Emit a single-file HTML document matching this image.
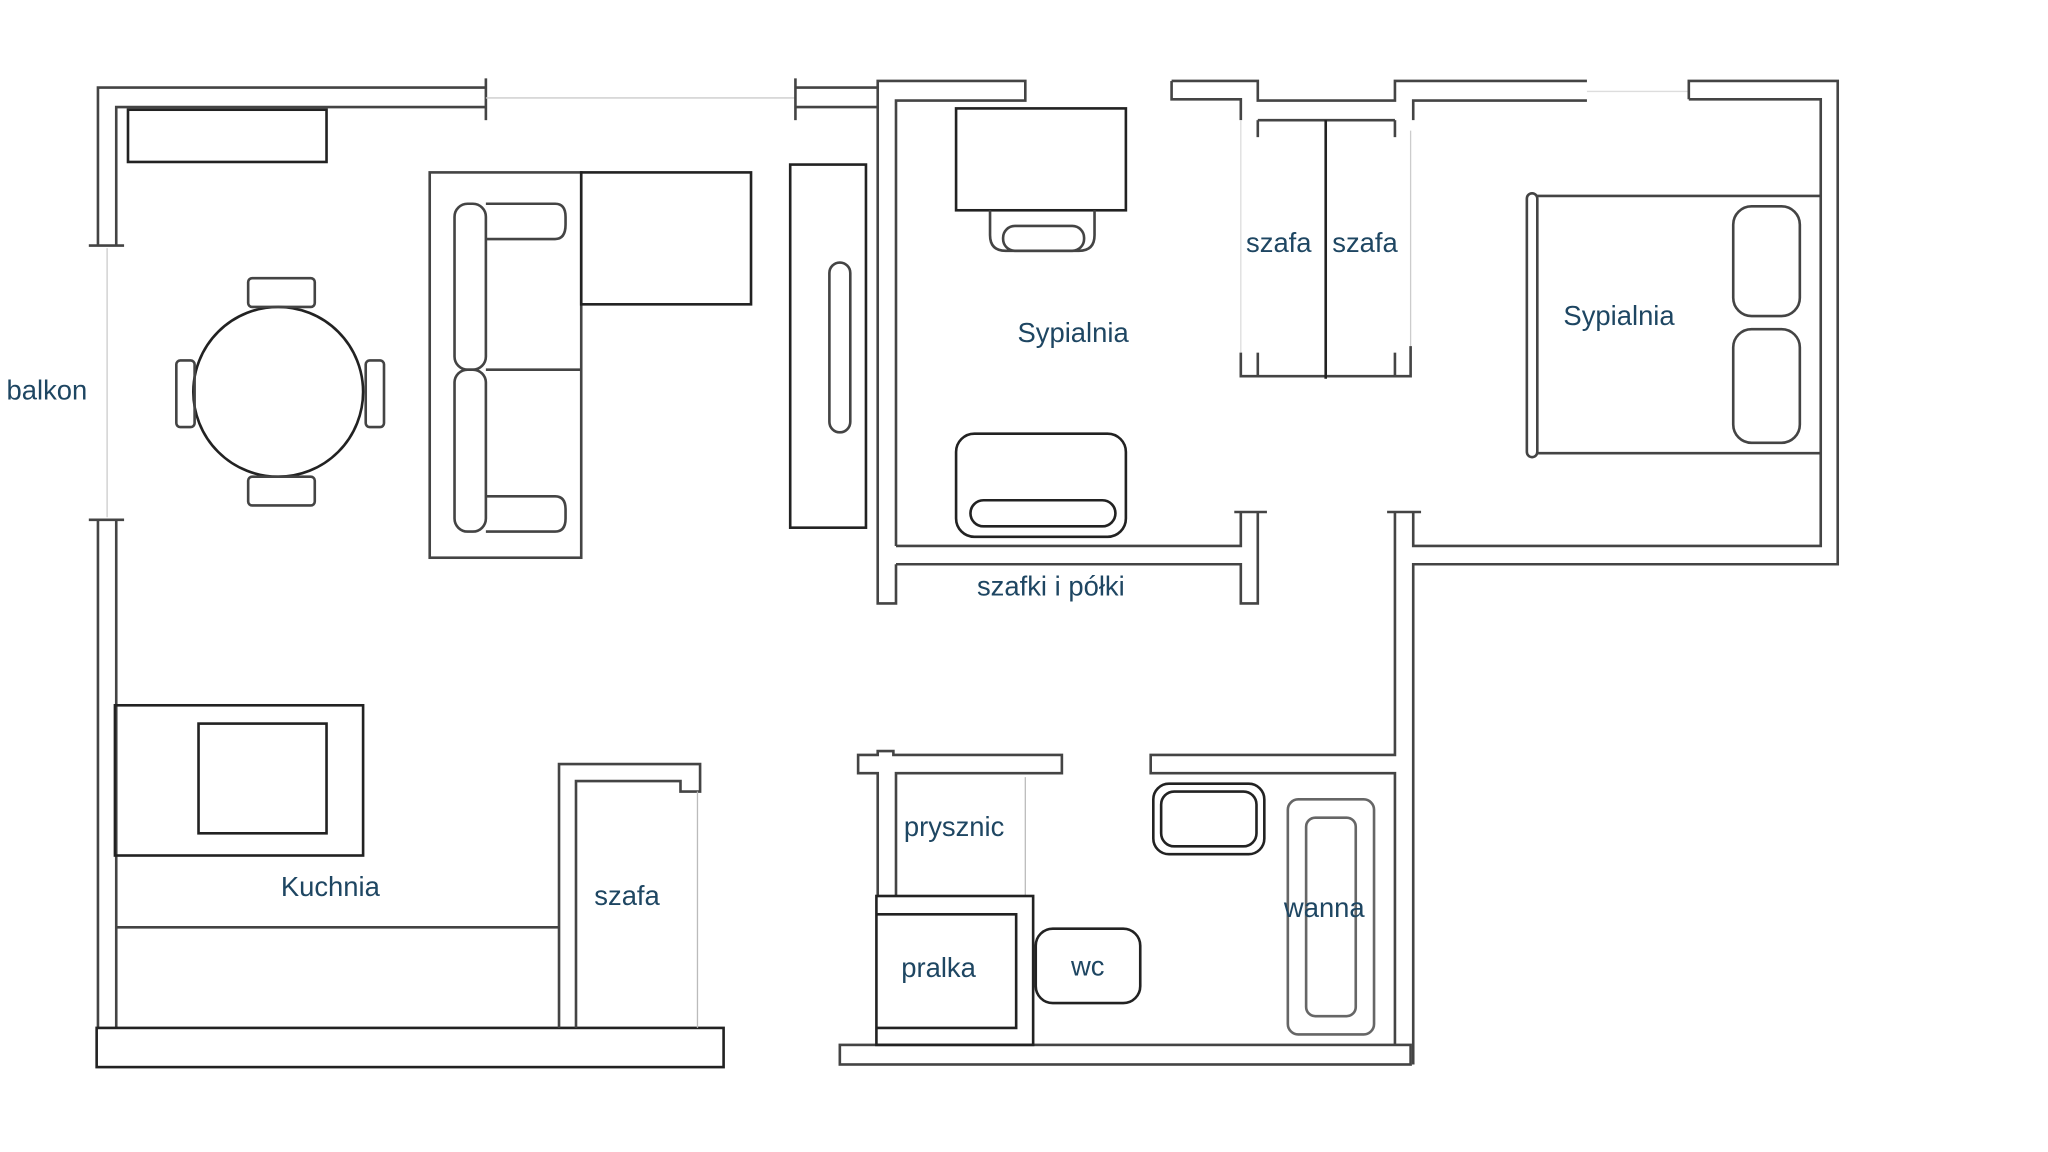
<!DOCTYPE html>
<html><head><meta charset="utf-8"><style>
html,body{margin:0;padding:0;background:#fff;}
svg{display:block;}
text{font-family:"Liberation Sans","DejaVu Sans",sans-serif;fill:#1e4662;font-size:21px;}
</style></head><body>
<svg width="2048" height="1152" viewBox="0 0 1568 882" xmlns="http://www.w3.org/2000/svg">
<rect width="1568" height="882" fill="#fff"/>
<g fill="none" stroke="#444" stroke-width="2">
<polyline points="75,188 75,67 372,67"/>
<polyline points="89,188 89,82 372,82"/>
<line x1="372" y1="60" x2="372" y2="92"/>
<line x1="68" y1="188" x2="95" y2="188"/>
<line x1="68" y1="398" x2="95" y2="398"/>
<line x1="75" y1="398" x2="75" y2="787"/>
<line x1="89" y1="398" x2="89" y2="787"/>
<line x1="82" y1="190" x2="82" y2="396" stroke="#ccc" stroke-width="1"/>
<line x1="372" y1="75" x2="609" y2="75" stroke="#ccc" stroke-width="1"/>
<rect x="98" y="84" width="152" height="40" stroke="#222"/>
<rect x="74" y="787" width="480" height="30" stroke="#222"/>
<rect x="88" y="540" width="190" height="115" stroke="#222"/>
<rect x="152" y="554" width="98" height="84" stroke="#222"/>
<line x1="89" y1="710" x2="428" y2="710"/>
<polyline points="428,787 428,585 536,585 536,606 521,606 521,598 441,598 441,787"/>
<line x1="534" y1="606" x2="534" y2="787" stroke="#bbb" stroke-width="1"/>
<circle cx="213" cy="300" r="65" stroke="#222"/>
<rect x="190" y="213" width="51" height="22" rx="3"/>
<rect x="190" y="365" width="51" height="22" rx="3"/>
<rect x="135" y="276" width="14" height="51" rx="3"/>
<rect x="280" y="276" width="14" height="51" rx="3"/>
<rect x="329" y="132" width="116" height="295"/>
<rect x="445" y="132" width="130" height="101" stroke="#222"/>
<rect x="348" y="156" width="24" height="127" rx="10"/>
<rect x="348" y="283" width="24" height="124" rx="10"/>
<path d="M372,156 H425 Q433,156 433,166 V172 Q433,183 425,183 H372"/>
<path d="M372,407 H425 Q433,407 433,397 V390 Q433,380 425,380 H372"/>
<line x1="372" y1="283" x2="445" y2="283"/>
<rect x="605" y="126" width="58" height="278" stroke="#222"/>
<rect x="635" y="201" width="16" height="130" rx="8"/>
<polyline points="609,67 672,67 672,462 686,462 686,432"/>
<polyline points="609,82 672,82"/>
<line x1="609" y1="60" x2="609" y2="92"/>
<polyline points="686,418 686,77 785,77 785,62 672,62 672,67"/>
<polyline points="686,418 950,418 950,392"/>
<line x1="945" y1="392" x2="970" y2="392"/>
<polyline points="963,392 963,462 950,462 950,432 686,432"/>
<rect x="732" y="83" width="130" height="78" stroke="#222"/>
<path d="M758,161 V180 Q758,192 770,192 H826 Q838,192 838,180 V161"/>
<rect x="768" y="173" width="62" height="19" rx="9"/>
<rect x="732" y="332" width="130" height="79" rx="14" stroke="#222"/>
<rect x="743" y="383" width="111" height="20" rx="10" stroke="#222"/>
<polyline points="897,62 963,62 963,77 1068,77 1068,62 1215,62"/>
<polyline points="897,62 897,76 950,76 950,92"/>
<polyline points="1215,77 1082,77 1082,92"/>
<line x1="1080" y1="100" x2="1080" y2="270" stroke="#ccc" stroke-width="1"/>
<line x1="950" y1="92" x2="950" y2="270" stroke="#ddd" stroke-width="1"/>
<polyline points="950,270 950,288 1080,288 1080,265"/>
<line x1="963" y1="92" x2="1068" y2="92"/>
<line x1="963" y1="92" x2="963" y2="105"/>
<line x1="1068" y1="92" x2="1068" y2="105"/>
<line x1="963" y1="270" x2="963" y2="288"/>
<line x1="1068" y1="270" x2="1068" y2="288"/>
<line x1="1015" y1="92" x2="1015" y2="290" stroke="#222"/>
<line x1="1215" y1="70" x2="1293" y2="70" stroke="#ddd" stroke-width="1"/>
<polyline points="1293,76 1293,62 1407,62 1407,432 1082,432 1082,815"/>
<polyline points="1293,76 1394,76 1394,418 1082,418 1082,392"/>
<line x1="1062" y1="392" x2="1088" y2="392"/>
<polyline points="1068,392 1068,578 881,578 881,592 1068,592 1068,800"/>
<rect x="1169" y="148" width="8" height="202" rx="4"/>
<polyline points="1177,150 1394,150"/>
<polyline points="1177,347 1394,347"/>
<rect x="1327" y="158" width="51" height="84" rx="14"/>
<rect x="1327" y="252" width="51" height="87" rx="14"/>
<polyline points="686,686 686,592 813,592 813,578 684,578 684,575 672,575 672,578 657,578 657,592 672,592 672,686"/>
<line x1="785" y1="595" x2="785" y2="686" stroke="#bbb" stroke-width="1"/>
<rect x="643" y="800" width="437" height="15"/>
<rect x="671" y="686" width="120" height="114" stroke="#222"/>
<polyline points="671,700 778,700 778,787 671,787" stroke="#222"/>
<rect x="793" y="711" width="80" height="57" rx="13" stroke="#222"/>
<rect x="883" y="600" width="85" height="54" rx="12" stroke="#222"/>
<rect x="889" y="606" width="73" height="42" rx="10" stroke="#222"/>
<rect x="986" y="612" width="66" height="180" rx="8" stroke="#666"/>
<rect x="1000" y="626" width="38" height="152" rx="7" stroke="#666"/>
</g>
<text x="5" y="306">balkon</text>
<text x="779" y="262">Sypialnia</text>
<text x="1197" y="249">Sypialnia</text>
<text x="954" y="193">szafa</text>
<text x="1020" y="193">szafa</text>
<text x="748" y="456">szafki i półki</text>
<text x="215" y="686">Kuchnia</text>
<text x="455" y="693">szafa</text>
<text x="692" y="640">prysznic</text>
<text x="690" y="748">pralka</text>
<text x="820" y="747">wc</text>
<text x="983" y="702">wanna</text>
</svg>
</body></html>
